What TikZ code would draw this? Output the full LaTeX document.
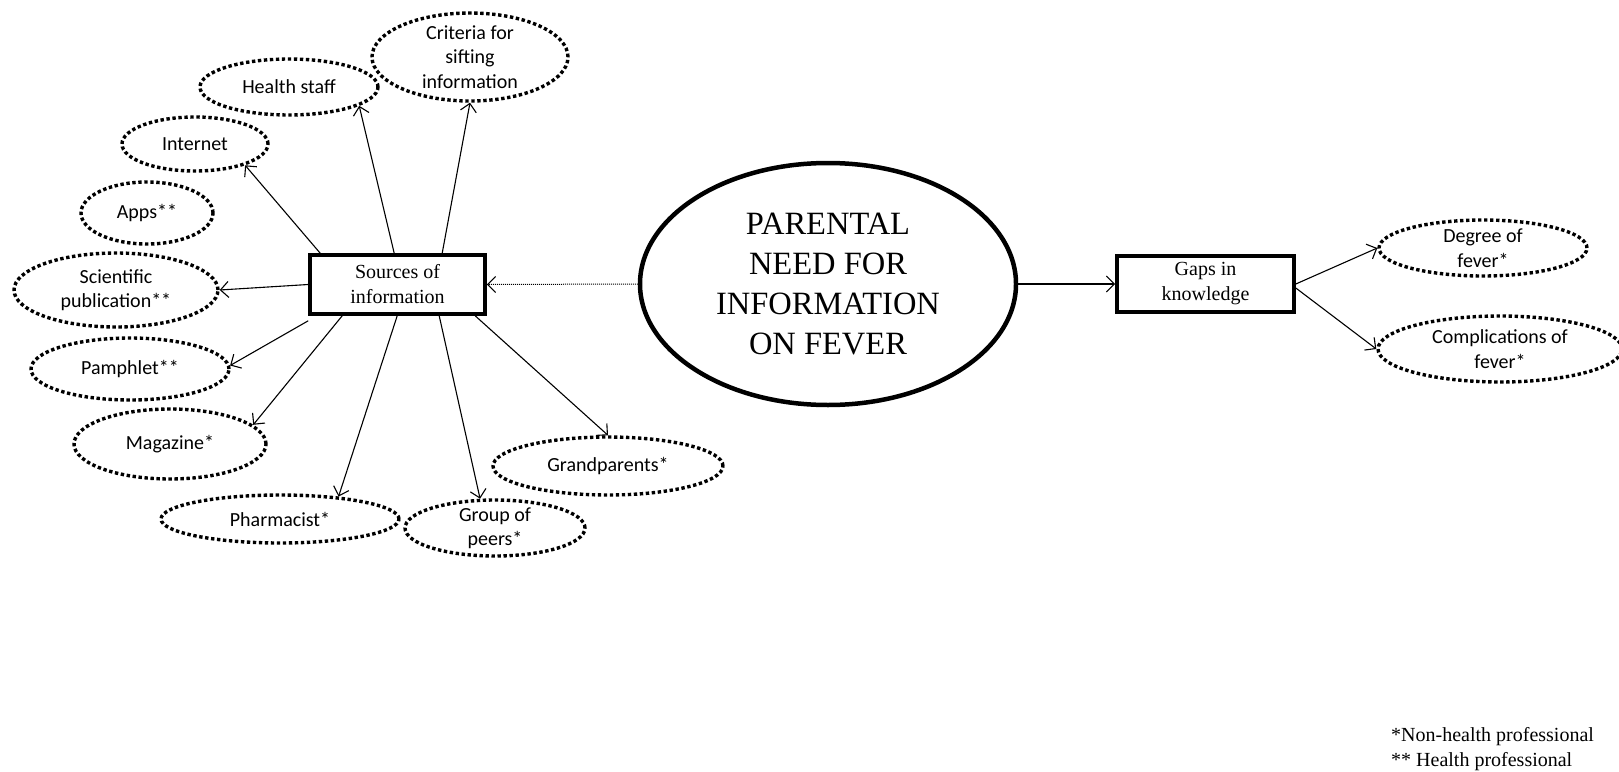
\documentclass[tikz,border=0pt]{standalone}
\usepackage{fontspec}
\setmainfont{Liberation Serif}
\newfontfamily\calib{Carlito}
\usetikzlibrary{shapes.geometric,arrows.meta,calc}
\tikzset{
  bubble/.style={ellipse, draw, line width=3.4pt, dash pattern=on 3.4pt off 2.6pt, inner sep=0pt},
  blbl/.style={font=\calib\fontsize{20}{24.5}\selectfont, align=center, inner sep=0pt},
  sbox/.style={rectangle, draw, line width=3.6pt, inner sep=0pt, align=center, font=\fontsize{20}{25}\selectfont},
  conn/.style={line width=1.1pt, -{Straight Barb[length=8pt,width=16pt,line width=1.1pt]}},
}
\begin{document}
\begin{tikzpicture}[x=1pt,y=-1pt]
\useasboundingbox (0,0) rectangle (1619,771);
% central
\node[ellipse, draw, line width=4.5pt, minimum width=376pt, minimum height=242pt, inner sep=0pt, align=center, font=\fontsize{32.5}{40}\selectfont] (main) at (828,284) {PARENTAL\\NEED FOR\\INFORMATION\\ON FEVER};
\node[sbox, minimum width=175pt, minimum height=59pt] (src) at (397.5,284.5) {Sources of\\information};
\node[sbox, minimum width=177pt, minimum height=56pt] (gaps) at (1205.5,284) {Gaps in\\knowledge};
% bubbles
\node[bubble, minimum width=196pt, minimum height=88pt, label={[blbl]center:Criteria for\\sifting\\information}] (crit) at (470,57) {};
\node[bubble, minimum width=178pt, minimum height=56pt, label={[blbl]center:Health staff}] (hs) at (289,87) {};
\node[bubble, minimum width=146pt, minimum height=54pt, label={[blbl]center:Internet}] (inet) at (195,144) {};
\node[bubble, minimum width=132pt, minimum height=62pt, label={[blbl]center:Apps**}] (apps) at (147,213) {};
\node[bubble, minimum width=204pt, minimum height=74pt, label={[blbl]center:Scientific\\publication**}] (sci) at (116,290) {};
\node[bubble, minimum width=198pt, minimum height=62pt, label={[blbl]center:Pamphlet**}] (pam) at (130,369) {};
\node[bubble, minimum width=192pt, minimum height=70pt, label={[blbl]center:Magazine*}] (mag) at (170,444) {};
\node[bubble, minimum width=238pt, minimum height=48pt, label={[blbl]center:Pharmacist*}] (pha) at (280,519) {};
\node[bubble, minimum width=180pt, minimum height=56pt, label={[blbl]center:Group of\\peers*}] (grp) at (495,528) {};
\node[bubble, minimum width=230pt, minimum height=58pt, label={[blbl]center:Grandparents*}] (gra) at (608,466) {};
\node[bubble, minimum width=208pt, minimum height=56pt, label={[blbl]center:Degree of\\fever*}] (deg) at (1483,248) {};
\node[bubble, minimum width=244pt, minimum height=66pt, label={[blbl]center:Complications of\\fever*}] (comp) at (1500,349) {};
% legend
\node[anchor=west, align=left, inner sep=0pt, font=\fontsize{20}{24.5}\selectfont] (leg) at (1391,749) {*Non-health professional\\** Health professional};
% connectors
\draw[conn] ([xshift=12pt]src.north west) -- (inet.-23);
\draw[conn] ([xshift=86pt]src.north west) -- (hs.-15);
\draw[conn] ([xshift=134pt]src.north west) -- (crit.south);
\draw[conn] (src.west) -- (sci.east);
\draw[conn] ([yshift=-5pt]src.south west) -- (pam.2);
\draw[conn] ([xshift=34pt]src.south west) -- (mag.13);
\draw[conn] ([xshift=89pt]src.south west) -- (pha.21);
\draw[conn] ([xshift=131pt]src.south west) -- (grp.117);
\draw[conn] ([xshift=167pt]src.south west) -- (gra.north);
\draw[line width=1pt, densely dotted, -{Straight Barb[length=8pt,width=16pt,line width=1.1pt]}] (main.west) -- (src.east);
\draw[conn] (main.east) -- (gaps.west);
\draw[conn] (gaps.east) -- (deg.west);
\draw[conn] ([yshift=-4pt]gaps.east) -- (comp.west);
\end{tikzpicture}
\end{document}
